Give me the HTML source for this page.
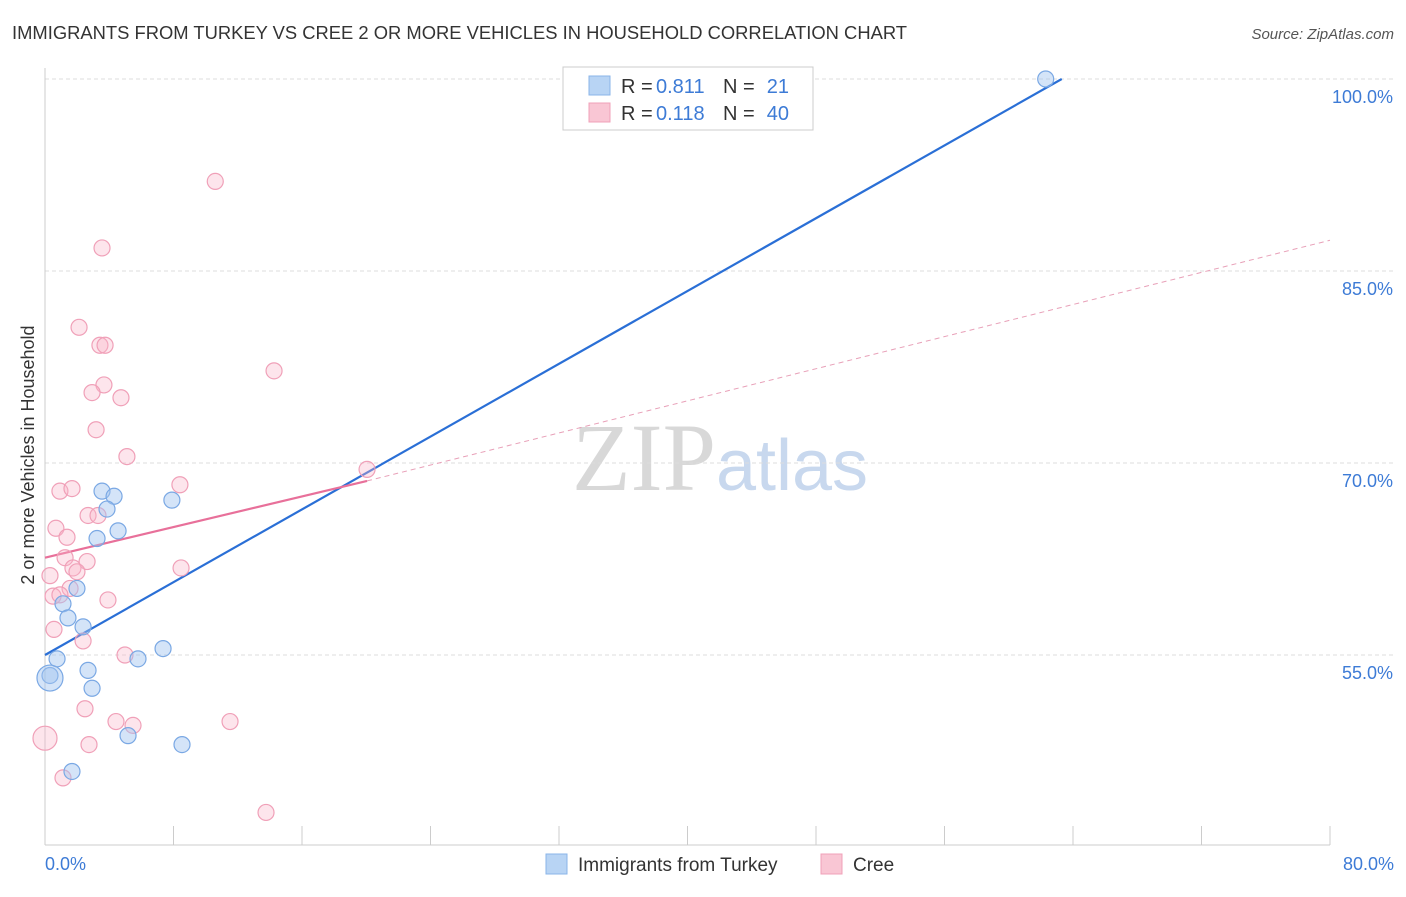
<!DOCTYPE html>
<html><head><meta charset="utf-8"><style>
body{margin:0;background:#fff;font-family:"Liberation Sans",sans-serif;}
svg text{font-family:"Liberation Sans",sans-serif;}
</style></head><body>
<svg id="chart" width="1406" height="892" xmlns="http://www.w3.org/2000/svg">
<text x="12" y="39" font-size="18" fill="#333" textLength="895" lengthAdjust="spacingAndGlyphs">IMMIGRANTS FROM TURKEY VS CREE 2 OR MORE VEHICLES IN HOUSEHOLD CORRELATION CHART</text>
<text x="1394" y="39" font-size="15" fill="#555" text-anchor="end" font-style="italic">Source: ZipAtlas.com</text>
<text x="720" y="490" font-size="96" text-anchor="middle"><tspan fill="#d8d8d8" font-family="Liberation Serif">ZIP</tspan><tspan fill="#c8d8ee" font-size="72">atlas</tspan></text>
<g id="grid"></g>
<g id="axes"></g>
<g id="lines"></g>
<g id="pts"></g>
<text transform="translate(34,455) rotate(-90)" font-size="18" fill="#333" text-anchor="middle">2 or more Vehicles in Household</text>
<text x="45" y="870" font-size="18" fill="#3d7bd6">0.0%</text>
<text x="1394" y="870" font-size="18" fill="#3d7bd6" text-anchor="end">80.0%</text>
<g>
<rect x="563" y="67" width="250" height="63" fill="#fff" stroke="#ccc"/>
<rect x="589" y="76" width="21" height="19" fill="#b8d4f4" stroke="#8ab4e8"/>
<rect x="589" y="103" width="21" height="19" fill="#f9c6d4" stroke="#f0a0b8"/>
<text x="621" y="93" font-size="20" fill="#333">R =</text>
<text x="656" y="93" font-size="20" fill="#3d7bd6">0.811</text>
<text x="723" y="93" font-size="20" fill="#333">N =</text>
<text x="789" y="93" font-size="20" fill="#3d7bd6" text-anchor="end">21</text>
<text x="621" y="120" font-size="20" fill="#333">R =</text>
<text x="656" y="120" font-size="20" fill="#3d7bd6">0.118</text>
<text x="723" y="120" font-size="20" fill="#333">N =</text>
<text x="789" y="120" font-size="20" fill="#3d7bd6" text-anchor="end">40</text>
</g>
<g>
<rect x="546" y="854" width="21" height="20" fill="#b8d4f4" stroke="#8ab4e8"/>
<text x="578" y="871" font-size="19" fill="#333">Immigrants from Turkey</text>
<rect x="821" y="854" width="21" height="20" fill="#f9c6d4" stroke="#f0a0b8"/>
<text x="853" y="871" font-size="19" fill="#333">Cree</text>
</g>
</svg>
<script>
const yTicks=[100,85,70,55];
const xTicks=[0,8,16,24,32,40,48,56,64,72,80];
const blueX=[62.3,7.9,3.55,4.3,3.86,4.55,3.24,1.99,1.12,1.43,2.37,0.75,0.31,2.68,2.93,5.79,7.35,5.17,8.53,1.68,0.31];
const blueY=[100,67.1,67.8,67.4,66.4,64.7,64.1,60.2,59.0,57.9,57.2,54.7,53.4,53.8,52.4,54.7,55.5,48.7,48.0,45.9,53.2];
const pinkX=[10.6,3.55,2.12,3.42,3.74,14.26,3.67,2.93,4.73,3.18,5.1,20.05,8.4,0.93,1.68,0.68,2.68,3.3,1.37,1.25,2.62,1.74,1.99,8.47,1.56,0.31,0.5,3.92,0.56,2.37,4.98,2.49,4.42,5.48,11.52,0,2.74,1.12,13.76,0.93];
const pinkY=[92.0,86.8,80.6,79.2,79.2,77.2,76.1,75.5,75.1,72.6,70.5,69.5,68.3,67.8,68.0,64.9,65.9,65.9,64.2,62.6,62.3,61.8,61.5,61.8,60.2,61.2,59.6,59.3,57.0,56.1,55.0,50.8,49.8,49.5,49.8,48.5,48.0,45.4,42.7,59.7];
const blueFit=[0,55.0,63.3,100];
const pinkFit=[0,62.6,20.05,68.6,80,87.4];
const NS='http://www.w3.org/2000/svg';
const X=v=>45+v*1285/80, Y=v=>79+(100-v)*12.8;
function mk(t,a,p){const e=document.createElementNS(NS,t);for(const k in a)e.setAttribute(k,a[k]);document.getElementById(p).appendChild(e);return e;}
yTicks.forEach(v=>{
 const l=mk('line',{x1:45,x2:1394,y1:Y(v),y2:Y(v),stroke:'#ddd','stroke-dasharray':'4,3'},'grid');
 
 
 const t=mk('text',{x:1393,y:Y(v)+24,'font-size':18,fill:'#3d7bd6','text-anchor':'end'},'grid');
 t.textContent=v.toFixed(1)+'%';
 
 
});
const ax=mk('line',{x1:45,x2:45,y1:68,y2:845,stroke:'#ccc'},'axes');


const bx=mk('line',{x1:45,x2:1330,y1:845,y2:845,stroke:'#ccc'},'axes');


xTicks.forEach(v=>{
 const l=mk('line',{x1:X(v),x2:X(v),y1:826,y2:845,stroke:'#ccc'},'axes');
 
 
});
let l1=mk('line',{x1:X(blueFit[0]),y1:Y(blueFit[1]),x2:X(blueFit[2]),y2:Y(blueFit[3]),stroke:'#2a6fd6','stroke-width':2.2},'lines');


let l2=mk('line',{x1:X(pinkFit[0]),y1:Y(pinkFit[1]),x2:X(pinkFit[2]),y2:Y(pinkFit[3]),stroke:'#e8709a','stroke-width':2.2},'lines');


let l3=mk('line',{x1:X(pinkFit[2]),y1:Y(pinkFit[3]),x2:X(pinkFit[4]),y2:Y(pinkFit[5]),stroke:'#e8a0b8','stroke-width':1,'stroke-dasharray':'5,4'},'lines');


pinkX.forEach((v,i)=>{
 const c=mk('circle',{cx:X(v),cy:Y(pinkY[i]),r:v===0?12:8,fill:'rgba(248,180,200,0.35)',stroke:'#f0a0b8','stroke-width':1.2},'pts');
 
 
});
blueX.forEach((v,i)=>{
 const c=mk('circle',{cx:X(v),cy:Y(blueY[i]),r:i===20?13:8,fill:'rgba(160,196,240,0.45)',stroke:'#7aa8e4','stroke-width':1.2},'pts');
 
 
});
</script>
</body></html>
